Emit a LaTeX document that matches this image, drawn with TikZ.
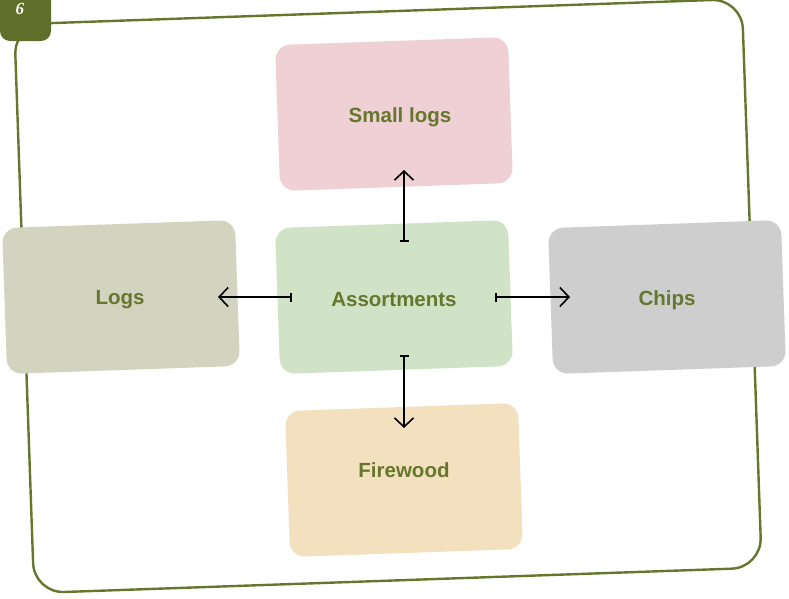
\documentclass[tikz,border=0pt]{standalone}
\usepackage{fontspec}
\setmainfont{Liberation Sans}
\newfontfamily\tabfont{Liberation Serif}
\usetikzlibrary{arrows.meta,positioning}
\definecolor{leafgreen}{HTML}{66772D}
\definecolor{tabgreen}{HTML}{5F6F2A}
\definecolor{pinkbox}{HTML}{EFD0D5}
\definecolor{mintbox}{HTML}{D0E3C7}
\definecolor{sagebox}{HTML}{D2D4C0}
\definecolor{greybox}{HTML}{CECECE}
\definecolor{sandbox}{HTML}{F2E0BE}

\begin{document}
\begin{tikzpicture}[x=1pt,y=-1pt,
  box/.style={rounded corners=15pt,minimum width=233pt,minimum height=146pt,rotate=2,inner sep=0pt},
  tag/.style={text=leafgreen,font=\fontsize{20.5}{24}\selectfont\bfseries},
  link/.style={line width=1.6pt,{Bar[width=9pt]}-{Straight Barb[length=9pt,width=19pt]}}]
\useasboundingbox (0,0) rectangle (789,598);

% outer sheet and page tab
\node[draw=leafgreen,line width=2.4pt,rounded corners=30pt,minimum width=728pt,minimum height=569pt,rotate=2] (sheet) at (388,296) {};
\fill[tabgreen,rounded corners=10pt] (0,-12) rectangle (51,41);
\node[text=white,font=\tabfont\bfseries\itshape\fontsize{17}{17}\selectfont] (pageno) at (20,9) {6};

% boxes
\node[box,fill=mintbox] (assort) at (394,297) {};
\node[box,fill=pinkbox] (small) at (394,114) {};
\node[box,fill=sagebox] (logs) at (121,297) {};
\node[box,fill=greybox] (chips) at (667,297) {};
\node[box,fill=sandbox] (firewood) at (404,480) {};

\node[tag] (assort-t) at (394,300) {Assortments};
\node[tag] (small-t) at (400,117) {Small logs};
\node[tag] (logs-t) at (120,300) {Logs};
\node[tag] (chips-t) at (667,300) {Chips};
\node[tag] (firewood-t) at (404,470) {Firewood};

% links out of the centre
\draw[link,shorten <=102pt,shorten >=97pt] (assort.center) -- (logs.center);
\draw[link,shorten <=101pt,shorten >=97pt] (assort.center) -- (chips.center);
\draw[link,shorten <=55pt,shorten >=56pt] ([xshift=10pt]assort.center) -- ([xshift=10pt]small.center);
\draw[link,shorten <=58pt,shorten >=52pt] ([xshift=10pt]assort.center) -- (firewood.center);
\end{tikzpicture}
\end{document}
